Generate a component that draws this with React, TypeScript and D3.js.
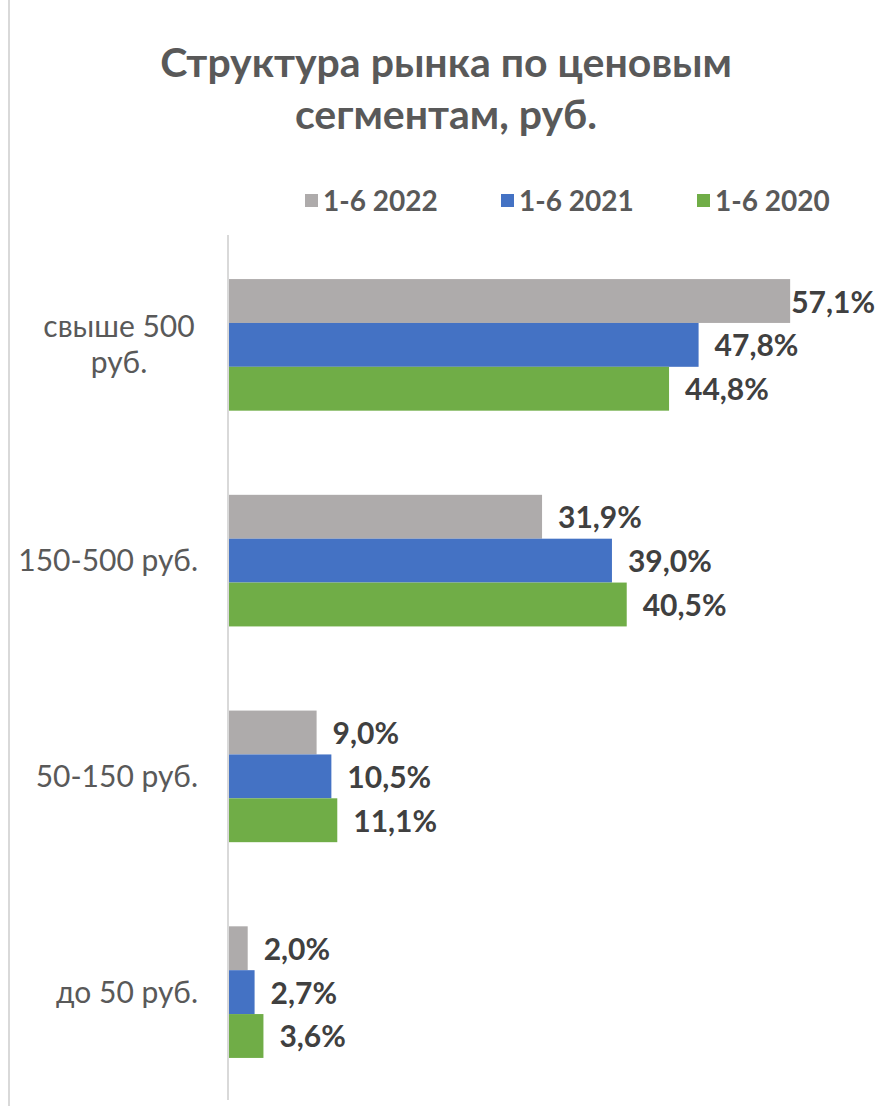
import React, { useRef, useEffect } from 'react';
import * as d3 from 'd3';

const titleLines = ['Структура рынка по ценовым', 'сегментам, руб.'];
const categories = ['свыше 500 руб.', '150-500 руб.', '50-150 руб.', 'до 50 руб.'];
const seriesNames = ['1-6 2022', '1-6 2021', '1-6 2020'];
const seriesColors = ['#AEABAB', '#4472C4', '#70AD47'];
const values2022 = [57.1, 31.9, 9.0, 2.0];
const values2021 = [47.8, 39.0, 10.5, 2.7];
const values2020 = [44.8, 40.5, 11.1, 3.6];

export default function App(): JSX.Element {
  const svgRef = useRef<SVGSVGElement>(null);

  useEffect(() => {
    const svgEl = svgRef.current;
    if (svgEl == null) {
      return;
    }
    const svg = d3.select(svgEl);
    svg.selectAll('*').remove();

    const font = 'Lato, Carlito, "Open Sans", sans-serif';
    const seriesValues = [values2022, values2021, values2020];

    const rows = seriesNames.flatMap((name, si) =>
      categories.map((cat, ci) => ({ series: name, cat, value: seriesValues[si][ci], color: seriesColors[si] }))
    );

    const x = d3.scaleLinear().domain([0, 60]).range([228, 228 + 60 * 9.845]);
    const y = d3.scaleBand().domain(categories).range([237, 1100]).paddingInner(0.39).paddingOuter(0.195);
    const inner = d3.scaleBand().domain(seriesNames).range([0, y.bandwidth()]);

    // рамка слева
    svg.append('line').attr('x1', 9).attr('x2', 9).attr('y1', 0).attr('y2', 1106)
      .attr('stroke', '#D9D9D9').attr('stroke-width', 2);

    // заголовок
    svg.append('g').selectAll('text').data(titleLines).join('text')
      .attr('x', 446)
      .attr('y', (d, i) => 77 + i * 52)
      .attr('text-anchor', 'middle')
      .attr('font-family', font)
      .attr('font-weight', 'bold')
      .attr('font-size', 41)
      .attr('fill', '#595959')
      .text((d) => d);

    // легенда
    const legend = svg.append('g').selectAll('g').data(seriesNames).join('g')
      .attr('transform', (d, i) => `translate(${305 + i * 196}, 201)`);
    legend.append('rect').attr('x', 0).attr('y', -7).attr('width', 13).attr('height', 13)
      .attr('fill', (d, i) => seriesColors[i]);
    legend.append('text').attr('x', 18).attr('y', 0).attr('dy', '0.35em')
      .attr('font-family', font).attr('font-weight', 'bold').attr('font-size', 28)
      .attr('fill', '#595959').text((d) => d);

    // столбцы
    svg.append('g').selectAll('rect').data(rows).join('rect')
      .attr('x', x(0))
      .attr('y', (d) => (y(d.cat) as number) + (inner(d.series) as number))
      .attr('width', (d) => x(d.value) - x(0))
      .attr('height', inner.bandwidth())
      .attr('fill', (d) => d.color);

    // подписи значений
    const gap = 16;
    const labels = svg.append('g').selectAll('text').data(rows).join('text')
      .attr('x', (d) => x(d.value) + gap)
      .attr('y', (d) => (y(d.cat) as number) + (inner(d.series) as number) + inner.bandwidth() / 2 + 1)
      .attr('dy', '0.35em')
      .attr('font-family', font)
      .attr('font-weight', 'bold')
      .attr('font-size', 30)
      .attr('fill', '#404040')
      .text((d) => d.value.toFixed(1).replace('.', ',') + '%');
    labels.each(function (d) {
      const el = this as SVGTextElement;
      const w = el.getComputedTextLength();
      const x0 = x(d.value) + gap;
      if (x0 + w > 875) {
        d3.select(el).attr('x', 875 - w);
      }
    });

    // ось
    svg.append('line').attr('x1', x(0)).attr('x2', x(0)).attr('y1', 235).attr('y2', 1100)
      .attr('stroke', '#D9D9D9').attr('stroke-width', 2);

    // подписи категорий
    const catG = svg.append('g');
    categories.forEach((cat) => {
      const cy = (y(cat) as number) + y.bandwidth() / 2;
      const t = catG.append('text')
        .attr('font-family', font).attr('font-size', 30).attr('fill', '#595959');
      t.text(cat);
      const w = (t.node() as SVGTextElement).getComputedTextLength();
      if (w > 185) {
        const words = cat.split(' ');
        const lines = [words.slice(0, -1).join(' '), words[words.length - 1]];
        t.text(null).attr('text-anchor', 'middle');
        lines.forEach((ln, i) => {
          t.append('tspan').attr('x', 119).attr('y', cy + (i - (lines.length - 1) / 2) * 36)
            .attr('dy', '0.35em').text(ln);
        });
      } else {
        t.attr('x', 198).attr('y', cy).attr('dy', '0.35em').attr('text-anchor', 'end');
      }
    });
  }, []);

  return (
    <svg
      ref={svgRef}
      width={877}
      height={1106}
      style={{ position: 'absolute', left: 0, top: 0, background: '#fff' }}
    />
  );
}
